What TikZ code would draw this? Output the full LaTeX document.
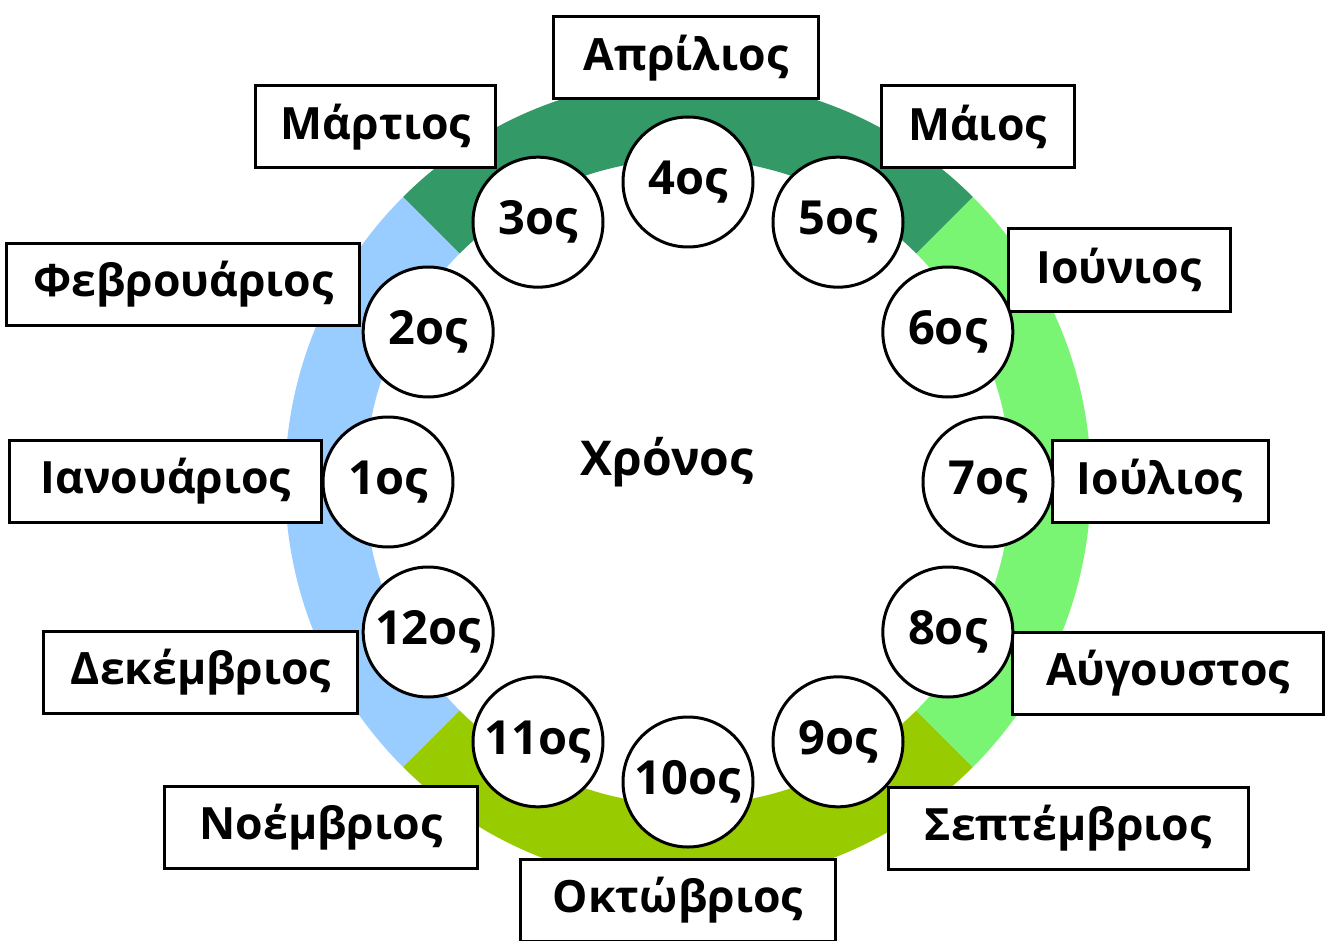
\documentclass[tikz,border=0pt]{standalone}
\usepackage{fontspec}
\setmainfont{Open Sans}
\usepackage{tikz}
\usetikzlibrary{positioning}

\definecolor{spring}{RGB}{51,153,102}
\definecolor{summer}{RGB}{122,245,115}
\definecolor{autumn}{RGB}{153,204,0}
\definecolor{winter}{RGB}{153,204,255}

\begin{document}
\begin{tikzpicture}[x=1pt,y=1pt,
    month/.style={draw,line width=3pt,fill=white,minimum height=82pt,
      inner sep=0pt,font=\fontsize{44.5}{50}\selectfont\bfseries},
    day/.style={draw,circle,line width=3pt,fill=white,minimum size=130pt,
      inner sep=0pt,font=\fontsize{47}{52}\selectfont\bfseries}]
    \useasboundingbox (-688,-458) rectangle (639,482);
    % the four seasons
    \fill [spring] (45:403) arc (45:135:403) -- (135:323) arc (135:45:323) -- cycle;
    \fill [winter] (135:403) arc (135:225:403) -- (225:323) arc (225:135:323) -- cycle;
    \fill [autumn] (225:403) arc (225:315:403) -- (315:323) arc (315:225:323) -- cycle;
    \fill [summer] (315:403) arc (315:405:403) -- (405:323) arc (405:315:323) -- cycle;
    \node [font=\fontsize{48}{52}\selectfont\bfseries] (year) at (-21,20) {Χρόνος};
    % months
    \node [month,minimum width=264pt] (apr) at (-2,424) {Απρίλιος};
    \node [month,minimum width=240pt] (mar) at (-312,355) {Μάρτιος};
    \node [month,minimum width=193pt] (may) at (289.5,355) {Μάιος};
    \node [month,minimum width=353pt] (feb) at (-504.5,197.5) {Φεβρουάριος};
    \node [month,minimum width=222pt] (jun) at (431,212) {Ιούνιος};
    \node [month,minimum width=312pt] (jan) at (-522,1) {Ιανουάριος};
    \node [month,minimum width=216pt] (jul) at (472,1) {Ιούλιος};
    \node [month,minimum width=314pt] (dec) at (-487,-190) {Δεκέμβριος};
    \node [month,minimum width=311pt] (aug) at (480,-191) {Αύγουστος};
    \node [month,minimum width=313pt] (nov) at (-367,-345) {Νοέμβριος};
    \node [month,minimum width=360pt] (sep) at (380,-346) {Σεπτέμβριος};
    \node [month,minimum width=314pt] (oct) at (-10,-418) {Οκτώβριος};
    % days of the year
    \foreach \n in {1,...,12}
      \node [day] (d\n) at ({210-30*\n}:300) {\n ος};
\end{tikzpicture}
\end{document}
